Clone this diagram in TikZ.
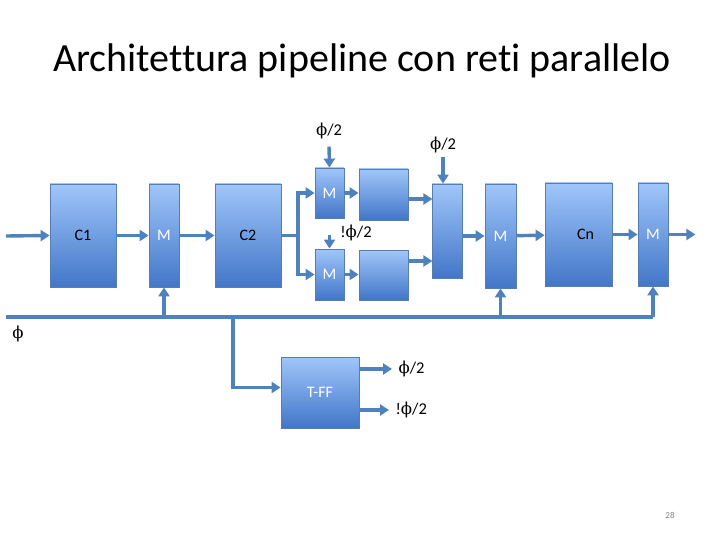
\documentclass[tikz,border=0pt]{standalone}
\usepackage{fontspec}
\setmainfont{Carlito}[Ligatures=NoCommon]
\newfontfamily\phifont{DejaVu Serif}
\newcommand{\phisym}{{\phifont ϕ}}
\usetikzlibrary{arrows.meta, positioning}
\definecolor{wire}{RGB}{79,129,189}
\definecolor{boxtop}{RGB}{160,198,250}
\definecolor{boxbot}{RGB}{66,118,200}
\definecolor{boxline}{RGB}{86,124,178}

\begin{document}
\begin{tikzpicture}[x=1pt, y=-1pt,
  blk/.style={draw=boxline, line width=0.8pt, top color=boxtop, bottom color=boxbot, inner sep=0pt, font=\fontsize{16}{19}\selectfont},
  wlbl/.style={text=white},
  line/.style={draw=wire, line width=3.4pt},
  arr/.style={line, -{Triangle[length=9pt,width=11pt]}},
  clk/.style={font=\fontsize{16.5}{19}\selectfont}]
\useasboundingbox (0,0) rectangle (720,540);
\node[font=\fontsize{40}{48}\selectfont] (title) at (362,61) {Architettura pipeline con reti parallelo};
% pipeline stages
\node[blk, minimum width=66pt, minimum height=103pt] (c1) at (83,235.5) {C1};
\node[blk, wlbl, minimum width=30pt, minimum height=103pt] (m1) at (164,235.5) {M};
\node[blk, minimum width=66pt, minimum height=103pt] (c2) at (248,235.5) {C2};
\node[blk, wlbl, minimum width=29pt, minimum height=50pt] (ma) at (329.5,193) {M};
\node[blk, minimum width=49pt, minimum height=51pt] (ra) at (383.5,194.5) {};
\node[blk, wlbl, minimum width=29pt, minimum height=51pt] (mb) at (329.5,274.5) {M};
\node[blk, minimum width=49pt, minimum height=50pt] (rb) at (383.5,275) {};
\node[blk, minimum width=30pt, minimum height=94pt] (mux) at (447,231) {};
\node[blk, wlbl, minimum width=31pt, minimum height=104pt] (m3) at (500.5,236) {M};
\node[blk, minimum width=67pt, minimum height=103pt] (cn) at (578.5,234.5) {\hspace{14pt}Cn};
\node[blk, wlbl, minimum width=30pt, minimum height=103pt] (m4) at (653,234.5) {M};
\node[blk, wlbl, minimum width=78pt, minimum height=71pt] (tff) at (320,392.5) {T-FF};
% clock labels
\node[clk] (pa) at (329,131) {\phisym/2};
\node[clk] (pb) at (443,145) {\phisym/2};
\node[clk] (pc) at (356,233) {!\phisym/2};
\node[clk] (phi) at (18,334) {\phisym};
\node[clk, anchor=west] (qa) at (395,369) {\phisym/2};
\node[clk, anchor=west] (qb) at (392,410) {!\phisym/2};
\node[font=\fontsize{9}{11}\selectfont, text=gray] (pg) at (670,515) {28};
\coordinate (in) at (6,236);
\coordinate (split) at (298,235.5);
\coordinate (nb) at (329.5,235);
\coordinate (clkl) at (6,317);
\coordinate (clkr) at (653,317);
\coordinate (tap) at (233,317);
% data path
\draw[arr] (in) -- (c1.west);
\draw[arr] (c1) -- (m1);
\draw[arr] (m1) -- (c2);
\draw[line] (c2.east) -- (split);
\draw[arr] (split) |- (ma.west);
\draw[arr] (split) |- (mb.west);
\draw[arr] (ma.east) -- (ma.east -| ra.west);
\draw[arr] (mb.east) -- (mb.east -| rb.west);
\draw[arr] ([yshift=-4.5pt]ra.east) -- ++(24,0);
\draw[arr] ([yshift=14pt]rb.east) -- ++(24,0);
\draw[arr] (mux.east |- m3.west) -- (m3.west);
\draw[arr] (m3) -- (cn);
\draw[arr] (cn) -- (m4);
\draw[arr] (m4.east) -- ++(27,0);
% clocks
\draw[arr] ([yshift=-4pt]pa.south) -- (ma.north);
\draw[arr] (pb.south) -- (pb.south |- mux.north);
\draw[arr] (nb) -- (mb.north);
\draw[line] (clkl) -- (clkr);
\draw[arr] (m1.south |- clkl) -- (m1.south);
\draw[arr] (m3.south |- clkl) -- (m3.south);
\draw[arr] (clkr) -- (m4.south);
\draw[arr] (tap) |- ([yshift=5pt]tff.west);
\draw[arr, shorten >=3pt] (tff.east |- qa.west) -- (qa.west);
\draw[arr, shorten >=3pt] (tff.east |- qb.west) -- (qb.west);
\end{tikzpicture}
\end{document}
